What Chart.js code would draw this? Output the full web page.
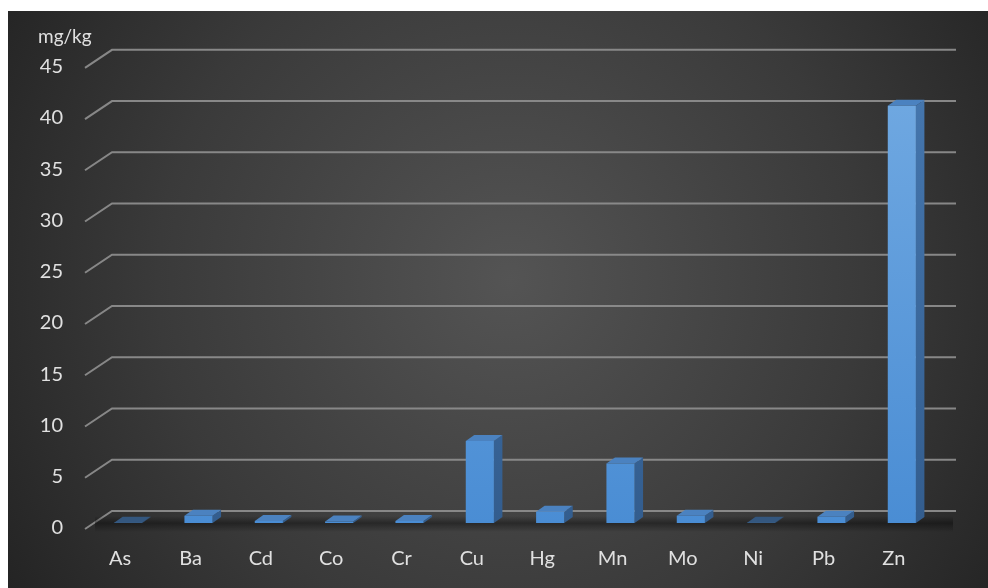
<!DOCTYPE html>
<html><head><meta charset="utf-8">
<script src="https://cdn.jsdelivr.net/npm/chart.js@4.4.1/dist/chart.umd.min.js"></script>
<style>html,body{margin:0;padding:0;background:#fff;overflow:hidden}#wrap{position:absolute;left:0;top:0;width:988px;height:588px}</style>
</head><body><div id="wrap"><canvas id="c" width="988" height="588"></canvas></div>
<script>
const categories = ['As','Ba','Cd','Co','Cr','Cu','Hg','Mn','Mo','Ni','Pb','Zn'];
const values = [0.02, 0.7, 0.2, 0.15, 0.2, 8.0, 1.1, 5.8, 0.7, 0.02, 0.6, 40.7];
const yTickValues = [0, 5, 10, 15, 20, 25, 30, 35, 40, 45];
const unitLabel = 'mg/kg';

const TEXT = '#e0e0e0';
const FONT = 'Lato, "Open Sans", sans-serif';
const BDX = 8.5, BDY = 6;   // bar depth
const FX = -8, FY = 6;      // front axis plane offset
const BX = 19, BY = -12;    // back wall offset

const bgPlugin = {
  id: 'bg',
  beforeDraw(chart) {
    const ctx = chart.ctx;
    ctx.save();
    ctx.fillStyle = '#ffffff';
    ctx.fillRect(0, 0, chart.width, chart.height);
    const g = ctx.createRadialGradient(510, 280, 0, 510, 280, 640);
    g.addColorStop(0, '#545454');
    g.addColorStop(0.55, '#3a3a3a');
    g.addColorStop(1, '#1f1f1f');
    ctx.fillStyle = g;
    ctx.fillRect(8, 11, chart.width - 8, chart.height - 11);
    ctx.restore();
  }
};

const wallPlugin = {
  id: 'walls',
  beforeDatasetsDraw(chart) {
    const { ctx, chartArea: a, scales: { y } } = chart;
    ctx.save();
    ctx.strokeStyle = 'rgba(140,140,140,0.95)';
    ctx.lineWidth = 2;
    y.ticks.forEach(t => {
      const py = y.getPixelForValue(t.value);
      ctx.beginPath();
      ctx.moveTo(a.left + FX, py + FY);
      ctx.lineTo(a.left + BX, py + BY);
      ctx.lineTo(a.right + BX, py + BY);
      ctx.stroke();
    });
    // floor shadow band
    const base = y.getPixelForValue(0);
    const sg = ctx.createLinearGradient(0, base - 7, 0, base + 9);
    sg.addColorStop(0, 'rgba(0,0,0,0)');
    sg.addColorStop(0.45, 'rgba(0,0,0,0.38)');
    sg.addColorStop(1, 'rgba(0,0,0,0)');
    ctx.fillStyle = sg;
    ctx.fillRect(a.left + 2, base - 7, a.right - a.left + 14, 16);

    // 3D faces of bars
    const meta = chart.getDatasetMeta(0);
    meta.data.forEach(bar => {
      const p = bar.getProps(['x', 'y', 'base', 'width'], true);
      const l = p.x - p.width / 2, r = p.x + p.width / 2;
      const tiny = (p.base - p.y) < 1.5;
      const sideG = ctx.createLinearGradient(0, a.top, 0, a.bottom);
      sideG.addColorStop(0, '#4678b0');
      sideG.addColorStop(1, '#335d8e');
      ctx.fillStyle = sideG;
      ctx.beginPath();
      ctx.moveTo(r, p.y); ctx.lineTo(r + BDX, p.y - BDY);
      ctx.lineTo(r + BDX, p.base - BDY); ctx.lineTo(r, p.base);
      ctx.closePath(); ctx.fill();
      ctx.fillStyle = tiny ? '#34577f' : '#4b82c0';
      ctx.beginPath();
      ctx.moveTo(l, p.y); ctx.lineTo(l + BDX, p.y - BDY);
      ctx.lineTo(r + BDX, p.y - BDY); ctx.lineTo(r, p.y);
      ctx.closePath(); ctx.fill();
    });
    ctx.restore();
  }
};

function frontColor(context) {
  const chart = context.chart;
  const a = chart.chartArea;
  if (!a) return '#5b9bd5';
  const g = chart.ctx.createLinearGradient(0, a.top, 0, a.bottom);
  g.addColorStop(0, '#72aae2');
  g.addColorStop(1, '#4a8dd4');
  return g;
}

new Chart(document.getElementById('c'), {
  type: 'bar',
  data: {
    labels: categories,
    datasets: [{
      data: values,
      backgroundColor: frontColor,
      borderWidth: 0,
      categoryPercentage: 1,
      barPercentage: 0.4
    }]
  },
  plugins: [bgPlugin, wallPlugin],
  options: {
    responsive: false,
    devicePixelRatio: 1,
    animation: false,
    layout: { padding: { left: 38, right: 51, top: 19, bottom: 0 } },
    plugins: {
      legend: { display: false },
      tooltip: { enabled: false },
      title: {
        display: true,
        text: unitLabel,
        align: 'start',
        color: TEXT,
        font: { family: FONT, size: 19, weight: 'normal' },
        padding: { top: 6, bottom: 14 }
      }
    },
    scales: {
      x: {
        grid: { display: false, drawTicks: false },
        border: { display: false },
        ticks: { color: TEXT, font: { family: FONT, size: 20 }, padding: 24, labelOffset: -8, maxRotation: 0 },
        afterFit(s) { s.height = 65; }
      },
      y: {
        min: 0, max: 45,
        afterBuildTicks(s) { s.ticks = yTickValues.map(v => ({ value: v })); },
        grid: { display: false, drawTicks: false },
        border: { display: false },
        ticks: { color: TEXT, font: { family: FONT, size: 20 }, padding: 30, labelOffset: 5 },
        afterFit(s) { s.width = 55; }
      }
    }
  }
});
</script>
</body></html>
